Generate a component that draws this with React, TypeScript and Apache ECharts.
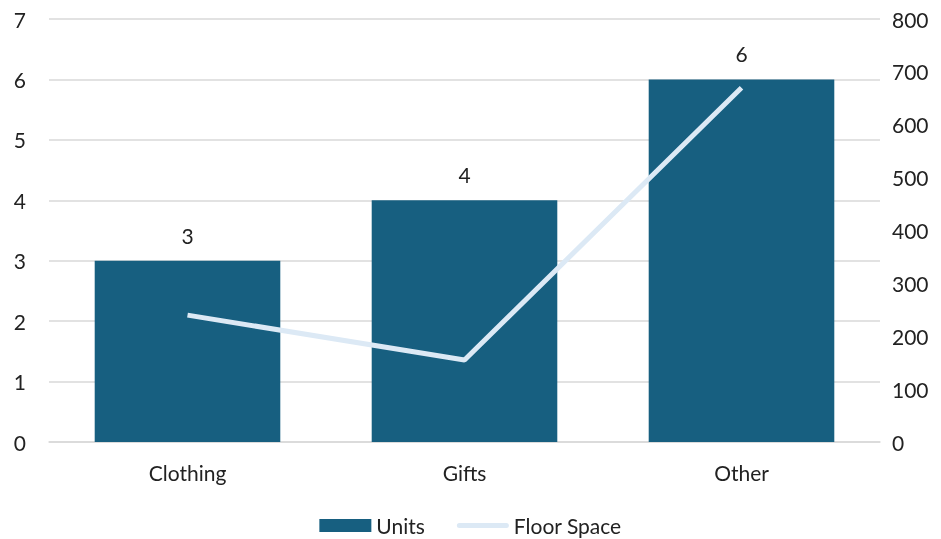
import React, { useEffect, useRef } from "react";
import * as echarts from "echarts";

const categories = ["Clothing", "Gifts", "Other"];
const units = [3, 4, 6];
const floorSpace = [240, 155, 670];
const leftTicks = [0, 7];
const rightTicks = [0, 800];

const FONT = "Lato, 'Open Sans', sans-serif";
const FS = 21;

export default function App() {
  const ref = useRef<HTMLDivElement>(null);
  useEffect(() => {
    const chart = echarts.init(ref.current!, null, { renderer: "svg" });
    chart.setOption({
      animation: false,
      textStyle: { fontFamily: FONT },
      grid: { left: 49, right: 61, top: 19, bottom: 97, containLabel: false },
      legend: {
        top: 515,
        left: "center",
        padding: 0,
        itemWidth: 52,
        itemHeight: 13,
        itemGap: 32,
        itemTextGap: 5,
        textStyle: { fontSize: FS, color: "#222", fontFamily: FONT },
        data: [
          { name: "Units", icon: "rect" },
          { name: "Floor Space", icon: "path://M2.5,0 L49.5,0 A2.5,2.5 0 0 1 49.5,5 L2.5,5 A2.5,2.5 0 0 1 2.5,0 Z" },
        ],
      },
      xAxis: {
        type: "category",
        data: categories,
        axisLine: { lineStyle: { color: "#d9d9d9", width: 1.5 } },
        axisTick: { show: false },
        axisLabel: { fontSize: FS, color: "#222", margin: 20, fontFamily: FONT },
      },
      yAxis: [
        {
          type: "value",
          min: leftTicks[0],
          max: leftTicks[1],
          interval: 1,
          axisLine: { show: false },
          axisTick: { show: false },
          splitLine: { lineStyle: { color: "#d9d9d9", width: 1.5 } },
          axisLabel: { fontSize: FS, color: "#222", margin: 23, fontFamily: FONT },
        },
        {
          type: "value",
          min: rightTicks[0],
          max: rightTicks[1],
          interval: 100,
          position: "right",
          axisLine: { show: false },
          axisTick: { show: false },
          splitLine: { show: false },
          axisLabel: { fontSize: FS, color: "#222", margin: 12, fontFamily: FONT },
        },
      ],
      series: [
        {
          name: "Units",
          type: "bar",
          data: units,
          barCategoryGap: "33%",
          itemStyle: { color: "#175f80" },
          label: {
            show: true,
            position: "top",
            distance: 15,
            fontSize: FS,
            color: "#222",
            fontFamily: FONT,
          },
        },
        {
          name: "Floor Space",
          type: "line",
          yAxisIndex: 1,
          data: floorSpace,
          symbol: "none",
          lineStyle: { color: "#dce9f5", width: 5 },
          itemStyle: { color: "#dce9f5" },
        },
      ],
    });
    return () => chart.dispose();
  }, []);
  return (
    <div
      ref={ref}
      style={{ position: "fixed", left: 0, top: 0, width: 941, height: 539 }}
    />
  );
}
